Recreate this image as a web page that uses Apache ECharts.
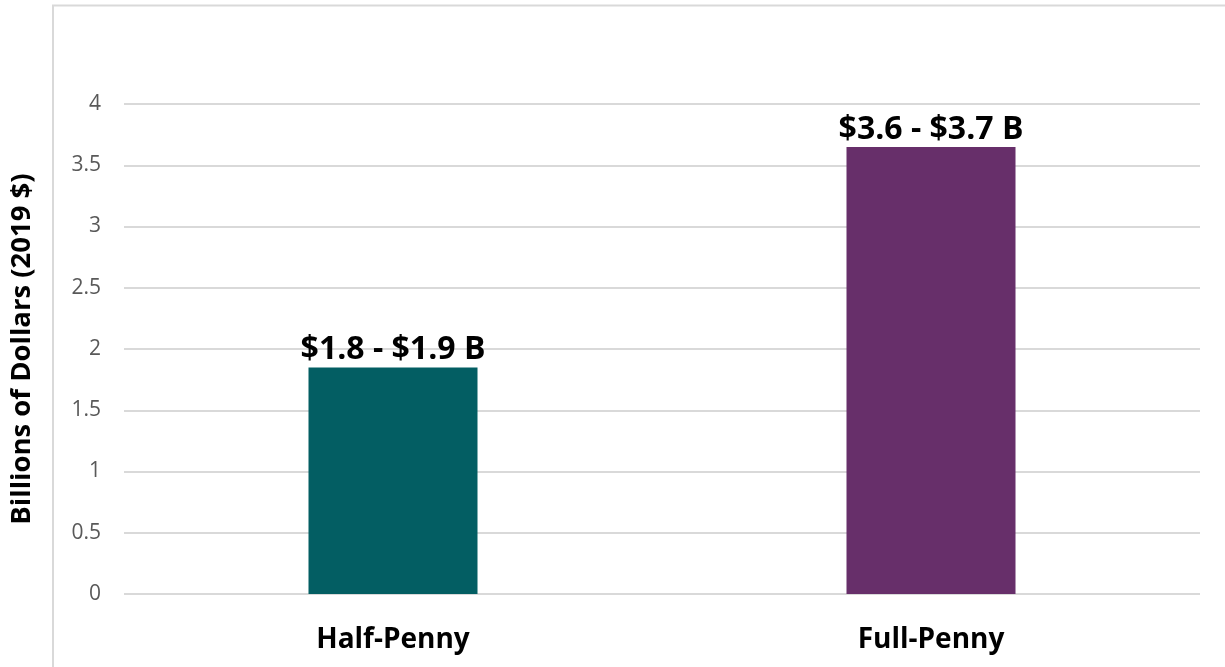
<!DOCTYPE html>
<html>
<head>
<meta charset="utf-8">
<script src="https://cdn.jsdelivr.net/npm/echarts@6/dist/echarts.min.js"></script>
<style>
  html, body { margin: 0; padding: 0; background: #fff; }
  #chart { width: 1225px; height: 667px; }
</style>
</head>
<body>
<div id="chart"></div>
<script>
// Estimated revenue by sales tax option, billions of 2019 dollars
const categories = ['Half-Penny', 'Full-Penny'];
const values = [1.85, 3.65];
const valueLabels = ['$1.8 - $1.9 B', '$3.6 - $3.7 B'];
const barColors = ['#035E63', '#672F6A'];

const fontFamily = '"Open Sans", "Noto Sans", sans-serif';
const chart = echarts.init(document.getElementById('chart'), null, { renderer: 'canvas' });

chart.setOption({
  animation: false,
  backgroundColor: '#ffffff',
  graphic: [
    {
      type: 'polyline',
      shape: { points: [[53, 667], [53, 5.5], [1225, 5.5]] },
      style: { stroke: '#d9d9d9', lineWidth: 2, fill: null },
      silent: true
    }
  ],
  grid: { left: 124, right: 25, top: 104, bottom: 73, containLabel: false },
  xAxis: {
    type: 'category',
    data: categories,
    axisLine: { show: false },
    axisTick: { show: false },
    axisLabel: {
      color: '#000000',
      fontFamily: fontFamily,
      fontSize: 28,
      fontWeight: 'bold',
      margin: 32
    }
  },
  yAxis: {
    type: 'value',
    min: 0,
    max: 4,
    interval: 0.5,
    name: 'Billions of Dollars (2019 $)',
    nameLocation: 'middle',
    nameGap: 88,
    nameTextStyle: {
      color: '#000000',
      fontFamily: fontFamily,
      fontSize: 27.5,
      fontWeight: 'bold'
    },
    axisLine: { show: false },
    axisTick: { show: false },
    axisLabel: {
      color: '#595959',
      fontFamily: fontFamily,
      fontSize: 21,
      margin: 23
    },
    splitLine: { lineStyle: { color: '#d9d9d9', width: 2 } }
  },
  series: [
    {
      type: 'bar',
      barWidth: 169,
      data: values.map((v, i) => ({
        value: v,
        itemStyle: { color: barColors[i] },
        label: { formatter: valueLabels[i] }
      })),
      label: {
        show: true,
        position: 'top',
        distance: 1,
        color: '#000000',
        fontFamily: fontFamily,
        fontSize: 32,
        fontWeight: 'bold'
      }
    }
  ]
});
</script>
</body>
</html>
